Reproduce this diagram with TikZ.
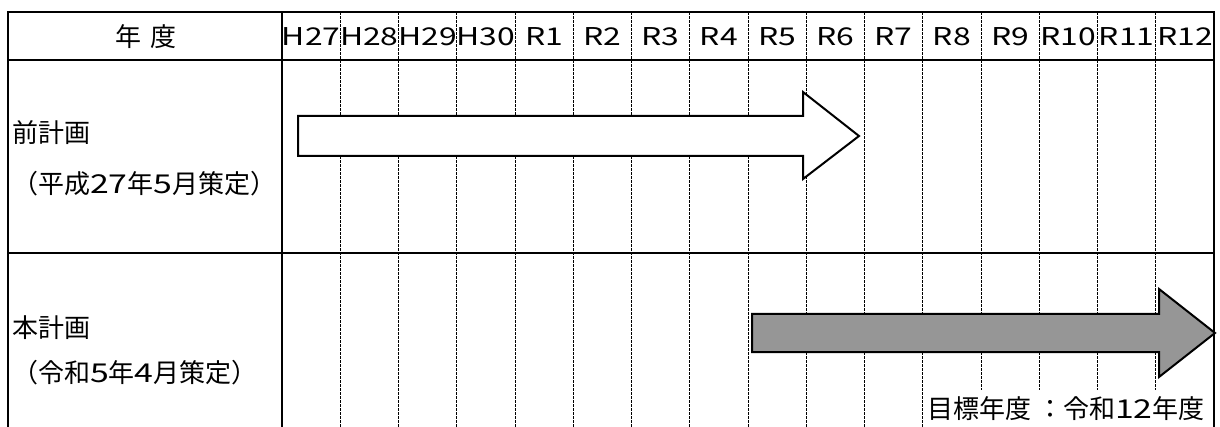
\documentclass[tikz,border=0pt]{standalone}
\usepackage{fontspec}
\setmainfont{Noto Sans CJK JP}
\newfontfamily\widefont[FakeStretch=1.3]{Noto Sans CJK JP}
\newcommand{\widetxt}[1]{{\widefont #1}}
\definecolor{arrowgray}{RGB}{150,150,150}
\begin{document}
\begin{tikzpicture}[x=1pt,y=-1pt,
  frame/.style={line width=2pt, line cap=rect},
  gridline/.style={line width=1pt, dash pattern=on 3pt off 1pt},
  band/.style={draw=black, line width=2pt, line join=miter},
  lbl/.style={font=\fontsize{26}{28}\selectfont, inner sep=0pt},
  yr/.style={font=\widefont\fontsize{24.5}{26}\selectfont, inner sep=0pt}]
\useasboundingbox (0,0) rectangle (1220,427);
\fill[white] (0,0) rectangle (1220,427);
% dashed year dividers
\foreach \i in {1,...,15}
  \draw[gridline] ({282+58.25*\i},12) -- ({282+58.25*\i},427);
% frame
\draw[frame] (8,12) -- (1214,12);
\draw[frame] (8,60) -- (1214,60);
\draw[frame] (8,253) -- (1214,253);
\draw[frame] (8,12) -- (8,427);
\draw[frame] (282,12) -- (282,427);
\draw[frame] (1214,12) -- (1214,427);
% header
\node[lbl] (hdr) at (146,37) {年\kern9pt 度};
\foreach \t [count=\i from 0] in {H27,H28,H29,H30,R1,R2,R3,R4,R5,R6,R7,R8,R9,R10,R11,R12}
  \node[yr] (yr\i) at ({282+58.25*(\i+0.5)},37) {\t};
% row labels
\node[lbl, anchor=west] (prevA) at (12,133) {前計画};
\node[lbl, anchor=west] (prevB) at (12,184) {（平成\widetxt{27}年\widetxt{5}月策定）};
\node[lbl, anchor=west] (curA) at (12,328) {本計画};
\node[lbl, anchor=west] (curB) at (12,373) {（令和\widetxt{5}年\widetxt{4}月策定）};
% arrows
\filldraw[band, fill=white] (298,116) -- (803,116) -- (803,92) -- (859,136)
  -- (803,179) -- (803,156) -- (298,156) -- cycle;
\filldraw[band, fill=arrowgray] (752,314) -- (1159,314) -- (1159,289) -- (1215,333)
  -- (1159,377) -- (1159,352) -- (752,352) -- cycle;
% target label
\node[lbl, anchor=west, fill=white, inner xsep=2pt, minimum height=38pt] (target) at (925,409)
  {目標年度\hspace{6pt}：令和\widetxt{12}年度};
\end{tikzpicture}
\end{document}
